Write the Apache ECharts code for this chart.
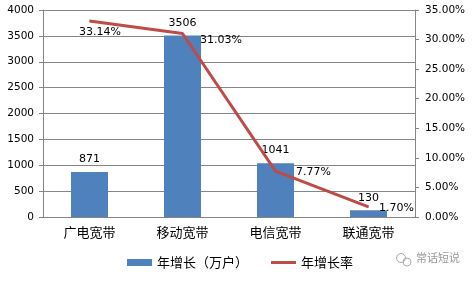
<!DOCTYPE html>
<html>
<head>
<meta charset="utf-8">
<script src="https://cdn.jsdelivr.net/npm/echarts@6/dist/echarts.min.js"></script>
<style>html,body{margin:0;padding:0;background:#fff}#c{width:476px;height:281px}</style>
</head>
<body>
<div id="c"></div>
<script>
const categories = ['广电宽带', '移动宽带', '电信宽带', '联通宽带'];
const growthValues = [871, 3506, 1041, 130];
const growthRates = [33.14, 31.03, 7.77, 1.70];
const leftTicks = { min: 0, max: 4000, interval: 500 };
const rightTicks = { min: 0, max: 35, interval: 5 };
const rateLabelOffsets = [[-11, 11], [17, 7], [20, 1], [10, 1]];

const axisGray = '#868686';
const fontNum = 'DejaVu Sans, Verdana, sans-serif';
const fontCJK = '"Noto Sans CJK SC", sans-serif';

const chart = echarts.init(document.getElementById('c'), null, { renderer: 'canvas' });
chart.setOption({
  animation: false,
  backgroundColor: '#fff',
  grid: { left: 43, right: 61, top: 10, bottom: 64 },
  legend: {
    left: 127, top: 256, padding: 0, itemGap: 23,
    itemWidth: 25, itemHeight: 7,
    textStyle: { fontFamily: fontCJK, fontSize: 13, color: '#000' },
    data: [
      { name: '年增长（万户）', icon: 'rect' },
      { name: '年增长率', icon: 'path://M0,0 L25,0 L25,3 L0,3 Z' }
    ]
  },
  xAxis: {
    type: 'category', data: categories,
    axisLine: { lineStyle: { color: axisGray, width: 1 } },
    axisTick: { length: 4, lineStyle: { color: axisGray } },
    axisLabel: { fontFamily: fontCJK, fontSize: 13, color: '#000', margin: 9 }
  },
  yAxis: [
    {
      type: 'value', min: leftTicks.min, max: leftTicks.max, interval: leftTicks.interval,
      axisLine: { show: true, lineStyle: { color: axisGray } },
      axisTick: { show: true, length: 4, lineStyle: { color: axisGray } },
      axisLabel: { fontFamily: fontNum, fontSize: 10.5, color: '#000', margin: 9,
        formatter: v => String(v) },
      splitLine: { lineStyle: { color: axisGray, width: 1 } }
    },
    {
      type: 'value', min: rightTicks.min, max: rightTicks.max, interval: rightTicks.interval,
      position: 'right',
      axisLine: { show: true, lineStyle: { color: axisGray } },
      axisTick: { show: true, length: 4, lineStyle: { color: axisGray } },
      axisLabel: { fontFamily: fontNum, fontSize: 10.5, color: '#000', margin: 10,
        formatter: v => v.toFixed(2) + '%' },
      splitLine: { show: false }
    }
  ],
  series: [
    {
      name: '年增长（万户）', type: 'bar', data: growthValues, barWidth: 37,
      itemStyle: { color: '#4f81bd' },
      label: { show: true, position: 'top', distance: 7, fontFamily: fontNum, fontSize: 11, color: '#000' }
    },
    {
      name: '年增长率', type: 'line', yAxisIndex: 1,
      symbol: 'circle', symbolSize: 1,
      itemStyle: { color: '#be4b48' },
      lineStyle: { color: '#be4b48', width: 3 },
      data: growthRates.map((v, i) => ({
        value: v,
        label: { offset: rateLabelOffsets[i] }
      })),
      label: {
        show: true, position: 'right', distance: 0,
        fontFamily: fontNum, fontSize: 11, color: '#000',
        formatter: p => p.value.toFixed(2) + '%'
      }
    }
  ],
  graphic: [
    { type: 'circle', shape: { cx: 401, cy: 258, r: 4.5 }, style: { fill: 'none', stroke: '#aaa', lineWidth: 1 } },
    { type: 'circle', shape: { cx: 407, cy: 262, r: 4 }, style: { fill: 'none', stroke: '#aaa', lineWidth: 1 } },
    { type: 'text', left: 416, top: 252, style: { text: '常话短说', fill: '#999', font: '11px "Noto Sans CJK SC", sans-serif' } }
  ]
});
</script>
</body>
</html>
